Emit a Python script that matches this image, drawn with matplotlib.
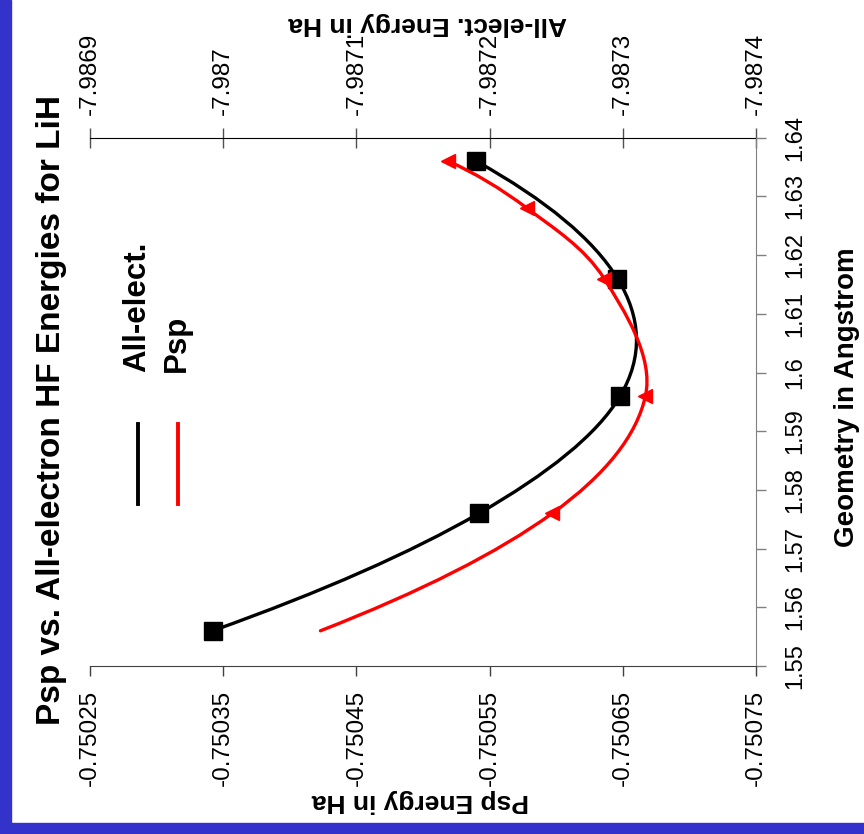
import matplotlib
matplotlib.use("Agg")
import matplotlib.pyplot as plt
from matplotlib.path import Path
from matplotlib.patches import PathPatch, Rectangle
from matplotlib.lines import Line2D
from matplotlib import font_manager

plt.rcParams["font.family"] = ["Liberation Sans", "DejaVu Sans"]

geometry_all = [1.556, 1.576, 1.596, 1.616, 1.636]
energy_all = [-7.986992, -7.987192, -7.987298, -7.987296, -7.987190]

geometry_psp = [1.556, 1.576, 1.596, 1.616, 1.628, 1.636]
energy_psp = [-0.750423, -0.750597, -0.750667, -0.750636, -0.750578, -0.750519]
psp_marker_idx = [1, 2, 3, 4, 5]

psp_ticks = [-0.75025, -0.75035, -0.75045, -0.75055, -0.75065, -0.75075]
psp_tick_labels = ["-0.75025", "-0.75035", "-0.75045", "-0.75055", "-0.75065", "-0.75075"]
all_ticks = [-7.9869, -7.9870, -7.9871, -7.9872, -7.9873, -7.9874]
all_tick_labels = ["-7.9869", "-7.987", "-7.9871", "-7.9872", "-7.9873", "-7.9874"]
geom_ticks = [1.55, 1.56, 1.57, 1.58, 1.59, 1.60, 1.61, 1.62, 1.63, 1.64]
geom_tick_labels = ["1.55", "1.56", "1.57", "1.58", "1.59", "1.6", "1.61", "1.62", "1.63", "1.64"]


def smooth_path(xs, ys):
    # smoothed line like Excel: cubic bezier pieces through every point,
    # tangent (next - prev) / 2 inside, parabolic pieces at both ends
    pts = list(zip(xs, ys))
    n = len(pts)

    def tangent(i):
        return ((pts[i + 1][0] - pts[i - 1][0]) / 2, (pts[i + 1][1] - pts[i - 1][1]) / 2)

    verts = [pts[0]]
    codes = [Path.MOVETO]
    for i in range(n - 1):
        p1 = pts[i]
        p2 = pts[i + 1]
        if i > 0:
            t1 = tangent(i)
            c1 = (p1[0] + t1[0] / 3, p1[1] + t1[1] / 3)
        if i + 1 < n - 1:
            t2 = tangent(i + 1)
            c2 = (p2[0] - t2[0] / 3, p2[1] - t2[1] / 3)
        if i == 0:
            c1 = (p1[0] + 2 * (p2[0] - p1[0]) / 3 - t2[0] / 3,
                  p1[1] + 2 * (p2[1] - p1[1]) / 3 - t2[1] / 3)
        if i + 1 == n - 1:
            c2 = (p2[0] + 2 * (p1[0] - p2[0]) / 3 + t1[0] / 3,
                  p2[1] + 2 * (p1[1] - p2[1]) / 3 + t1[1] / 3)
        verts += [c1, c2, p2]
        codes += [Path.CURVE4] * 3
    return Path(verts, codes)


names = {f.name for f in font_manager.fontManager.ttflist}
if "Liberation Sans Narrow" in names:
    geom_font = dict(family="Liberation Sans Narrow", size=20)
else:
    geom_font = dict(family="Liberation Sans", size=17)

W, H = 864, 834
fig = plt.figure(figsize=(W / 100, H / 100), dpi=100)
fig.patch.set_facecolor("white")

# blue frame strips (left and bottom)
fig.patches.append(Rectangle((0, 0), 11 / W, 1, transform=fig.transFigure, color="#3333cc", zorder=0))
fig.patches.append(Rectangle((0, 0), 1, 11 / H, transform=fig.transFigure, color="#3333cc", zorder=0))

ax = fig.add_axes([90 / W, 1 - 666 / H, 666 / W, 528.3 / H])
ax2 = ax.twiny()
ax.set_zorder(ax2.get_zorder() + 1)
ax.patch.set_visible(False)

# Psp on bottom axis, geometry on right axis
ax.set_xlim(-0.75025, -0.75075)
ax.set_ylim(1.55, 1.64)
ax2.set_xlim(-7.9869, -7.9874)

ax.add_patch(PathPatch(smooth_path(energy_psp, geometry_psp), fill=False,
                       edgecolor="#ff0000", lw=2.4, capstyle="round", joinstyle="round"))
ax.plot([energy_psp[i] for i in psp_marker_idx], [geometry_psp[i] for i in psp_marker_idx],
        linestyle="none", marker="<", ms=10.5, color="#ff0000")

ax2.add_patch(PathPatch(smooth_path(energy_all, geometry_all), fill=False,
                        edgecolor="black", lw=2.4, capstyle="round", joinstyle="round"))
ax2.plot(energy_all, geometry_all, linestyle="none", marker="s", ms=12.5, color="black")

# spines
for side in ["left", "top"]:
    ax.spines[side].set_visible(False)
ax.spines["bottom"].set_color("#404040")
ax.spines["right"].set_color("#808080")
for side in ["left", "bottom", "right"]:
    ax2.spines[side].set_visible(False)
ax2.spines["top"].set_color("black")

ax.set_xticks(psp_ticks)
ax.set_xticklabels(psp_tick_labels, rotation=90, fontsize=17.5)
ax.tick_params(axis="x", direction="out", length=7, width=1, color="#404040", pad=10)

ax.yaxis.tick_right()
ax.set_yticks(geom_ticks)
ax.set_yticklabels(geom_tick_labels, rotation=90, va="center", **geom_font)
ax.tick_params(axis="y", direction="out", length=7, width=1, color="#808080", pad=13)

ax2.set_xticks(all_ticks)
ax2.set_xticklabels(all_tick_labels, rotation=90, fontsize=17.5)
ax2.tick_params(axis="x", direction="inout", length=14, width=1, color="#505050", pad=9)

# titles and axis labels (chart is turned a quarter turn)
fig.text(52 / W, 1 - 410 / H, "Psp vs. All-electron HF Energies for LiH", rotation=90,
         ha="center", va="center", fontsize=24, fontweight="bold")
fig.text(847 / W, 1 - 397 / H, "Geometry in Angstrom", rotation=90,
         ha="center", va="center", fontsize=20, fontweight="bold")
fig.text(420 / W, 1 - 801 / H, "Psp Energy in Ha", rotation=180,
         ha="center", va="center", fontsize=19, fontweight="bold")
fig.text(428 / W, 1 - 24 / H, "All-elect. Energy in Ha", rotation=180,
         ha="center", va="center", fontsize=19, fontweight="bold")

# legend, drawn by hand to match the turned layout
fig.lines.append(Line2D([138.3 / W, 138.3 / W], [1 - 424 / H, 1 - 504 / H],
                        transform=fig.transFigure, color="black", lw=2.8))
fig.lines.append(Line2D([178.3 / W, 178.3 / W], [1 - 424 / H, 1 - 504 / H],
                        transform=fig.transFigure, color="#ff0000", lw=2.8))
fig.text(137 / W, 1 - 372 / H, "All-elect.", rotation=90, ha="center", va="bottom",
         fontsize=22.5, fontweight="bold")
fig.text(177 / W, 1 - 372 / H, "Psp", rotation=90, ha="center", va="bottom",
         fontsize=22.5, fontweight="bold")

fig.savefig("out.png", dpi=100, facecolor="white")
